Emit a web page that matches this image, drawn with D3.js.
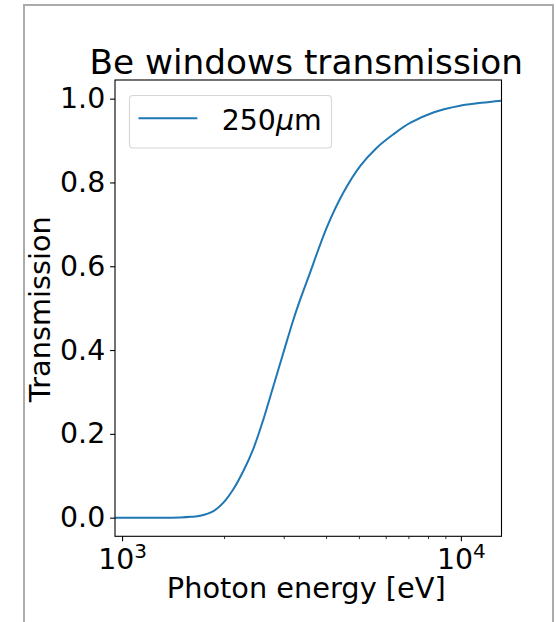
<!DOCTYPE html>
<html>
<head>
<meta charset="utf-8">
<script src="https://cdn.jsdelivr.net/npm/d3@7"></script>
<style>
  body { margin: 0; background: #fff; }
  text { font-family: "DejaVu Sans", sans-serif; fill: #000; }
</style>
</head>
<body>
<div id="chart"></div>
<script>
'use strict'

// photon energy [eV]
var energy = [953, 1200, 1484, 1600, 1700, 1861, 1991, 2132, 2282, 2442, 2614, 2797, 2994, 3205, 3371, 3589,
	4021, 4501, 5042, 5648, 6322, 7082, 8296, 9945, 11500, 13180]
// transmission of the 250um Be window
var trans = [0, 0, 0.0005, 0.002, 0.0045, 0.0158, 0.036, 0.0685, 0.112, 0.165, 0.235, 0.314, 0.394, 0.473, 0.525, 0.585,
	0.693, 0.776, 0.839, 0.883, 0.915, 0.942, 0.967, 0.983, 0.990, 0.995]

var yTicks = [0, 0.2, 0.4, 0.6, 0.8, 1.0]
var xMajor = [1000, 10000]
var xMinor = [2000, 3000, 4000, 5000, 6000, 7000, 8000, 9000]
var seriesName = "250"

var width = 556, height = 622
var margins = {top: 80, bottom: 86, left: 115, right: 55}
var w = 501.5 - margins.left
var h = 536.3 - margins.top

var svg = d3.select("#chart").append("svg")
	.attr("width", width)
	.attr("height", height)

// figure frame
svg.append("rect")
	.attr("x", 24).attr("y", 5)
	.attr("width", 529).attr("height", 640)
	.attr("fill", "none")
	.attr("stroke", "#ababab")
	.attr("stroke-width", 2)

var g = svg.append("g").attr("transform", "translate(" + margins.left + "," + margins.top + ")")

var x = d3.scaleLog().domain([953, 13180]).range([0, w])
var y = d3.scaleLinear().domain([-0.0445, 1.0445]).range([h, 0])

var line = d3.line()
	.x(function(d){ return x(d[0]) })
	.y(function(d){ return y(d[1]) })
	.curve(d3.curveCatmullRom.alpha(0.5))

var pts = energy.map(function(e, i){ return [e, trans[i]] })

g.append("path")
	.datum(pts)
	.attr("fill", "none")
	.attr("stroke", "#1f77b4")
	.attr("stroke-width", 2)
	.attr("d", line)

// y axis
var ya = g.append("g")
	.call(d3.axisLeft(y).tickValues(yTicks).tickFormat(d3.format(".1f")).tickSize(4.9).tickPadding(4.9))
ya.select(".domain").remove()
ya.selectAll("line").attr("stroke", "#000").attr("stroke-width", 1.1)
ya.selectAll("text").style("font-size", "28.4px").style("font-family", "DejaVu Sans")

// x axis, major ticks with superscript labels
var xa = g.append("g").attr("transform", "translate(0," + h + ")")
	.call(d3.axisBottom(x).tickValues(xMajor).tickFormat("").tickSize(4.9))
xa.select(".domain").remove()
xa.selectAll("line").attr("stroke", "#000").attr("stroke-width", 1.1)
xa.selectAll(".tick").append("text")
	.attr("y", 33)
	.attr("text-anchor", "middle")
	.style("font-size", "28.4px")
	.each(function(d){
		var t = d3.select(this)
		t.append("tspan").text("10")
		t.append("tspan").attr("dy", -11).style("font-size", "20px").text(Math.round(Math.log10(d)))
	})

var xm = g.append("g").attr("transform", "translate(0," + h + ")")
	.call(d3.axisBottom(x).tickValues(xMinor).tickFormat("").tickSize(2.8))
xm.select(".domain").remove()
xm.selectAll("line").attr("stroke", "#000").attr("stroke-width", 0.8)

// axes frame
g.append("rect")
	.attr("width", w).attr("height", h)
	.attr("fill", "none")
	.attr("stroke", "#000")
	.attr("stroke-width", 1.1)

// labels
svg.append("text")
	.attr("x", margins.left + w / 2 - 2).attr("y", 598)
	.attr("text-anchor", "middle")
	.style("font-size", "28.8px")
	.text("Photon energy [eV]")

svg.append("text")
	.attr("transform", "translate(50," + (margins.top + h / 2 + 1) + ") rotate(-90)")
	.attr("text-anchor", "middle")
	.style("font-size", "28.8px")
	.text("Transmission")

svg.append("text")
	.attr("x", margins.left + w / 2 - 2).attr("y", 74)
	.attr("text-anchor", "middle")
	.style("font-size", "34.3px")
	.text("Be windows transmission")

// legend
var lg = svg.append("g")
lg.append("rect")
	.attr("x", 129.5).attr("y", 95.5)
	.attr("width", 202).attr("height", 52.5)
	.attr("rx", 3.5)
	.attr("fill", "#fff").attr("fill-opacity", 0.8)
	.attr("stroke", "#d6d6d6").attr("stroke-width", 1.1)
lg.append("line")
	.attr("x1", 138.5).attr("x2", 197.3)
	.attr("y1", 118.3).attr("y2", 118.3)
	.attr("stroke", "#1f77b4").attr("stroke-width", 2)
var lt = lg.append("text")
	.attr("x", 221.7).attr("y", 130)
	.style("font-size", "28.4px")
lt.append("tspan").text(seriesName)
lt.append("tspan").style("font-style", "italic").text("μ")
lt.append("tspan").text("m")
</script>
</body>
</html>
